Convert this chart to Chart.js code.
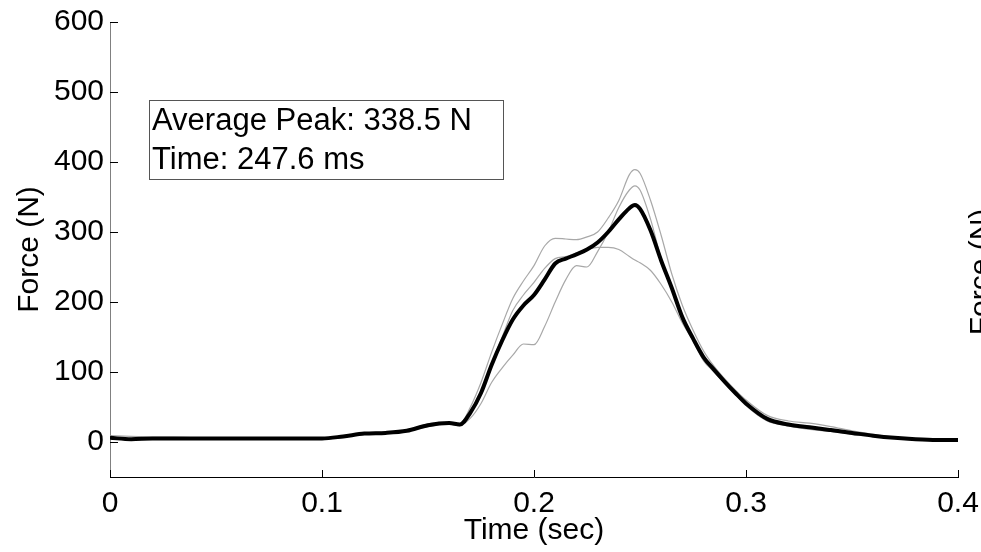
<!DOCTYPE html>
<html>
<head>
<meta charset="utf-8">
<script src="https://cdn.jsdelivr.net/npm/chart.js@4.4.1/dist/chart.umd.min.js"></script>
<style>
  html, body { margin: 0; padding: 0; background: #fff; }
  canvas { display: block; }
</style>
</head>
<body>
<canvas id="forceChart" width="981" height="552"></canvas>
<script>
// time (sec)
const times = [0, 0.01, 0.02, 0.03, 0.04, 0.05, 0.06, 0.07, 0.08, 0.09,
  0.10, 0.11, 0.12, 0.13, 0.14, 0.15, 0.16,
  0.165, 0.17, 0.175, 0.18, 0.185, 0.19, 0.195, 0.2,
  0.205, 0.21, 0.215, 0.22, 0.225, 0.23, 0.235, 0.24, 0.245, 0.2476,
  0.25, 0.255, 0.26, 0.265, 0.27, 0.275, 0.28, 0.285, 0.29, 0.295, 0.3,
  0.31, 0.32, 0.33, 0.34, 0.35, 0.36, 0.37, 0.38, 0.39, 0.4];

// average force (N)
const meanForce = [6, 4, 5, 5, 5, 5, 5, 5, 5, 5,
  5, 8, 12, 13, 16, 24, 27,
  25, 42, 70, 110, 145, 175, 195, 210,
  232, 255, 262, 268, 275, 285, 300, 318, 334, 338.5,
  333, 302, 259, 220, 178, 148, 121, 103, 86, 70, 55,
  33, 25, 21, 17, 13, 9, 6, 4, 3, 3];

// single trials (N)
const trial1 = [9, 8, 7, 7, 6, 6, 6, 5, 5, 5,
  5, 8, 13, 14, 17, 26, 28,
  26, 50, 85, 128, 168, 205, 230, 252,
  280, 291, 290, 289, 293, 300, 320, 345, 382, 389,
  384, 345, 295, 240, 195, 160, 130, 108, 90, 74, 60,
  38, 30, 27, 22, 16, 11, 7, 5, 4, 4];
const trial2 = [4, 3, 4, 4, 4, 4, 4, 4, 4, 4,
  4, 7, 11, 12, 15, 22, 26,
  23, 44, 72, 112, 150, 188, 210, 228,
  248, 262, 265, 270, 275, 278, 278, 275, 265, 260,
  256, 245, 225, 200, 170, 145, 118, 100, 84, 68, 52,
  30, 23, 18, 15, 12, 8, 5, 3, 3, 2];
const trial3 = [6, 4, 5, 5, 5, 5, 5, 5, 5, 5,
  5, 9, 12, 13, 16, 24, 27,
  24, 34, 55, 85, 106, 124, 140, 139,
  165, 200, 232, 252, 250, 272, 300, 335, 360, 366,
  360, 318, 262, 222, 178, 145, 116, 100, 84, 68, 53,
  31, 23, 19, 15, 11, 8, 6, 4, 3, 3];

const xTicks = [0, 0.1, 0.2, 0.3, 0.4];
const yTicks = [0, 100, 200, 300, 400, 500, 600];
const peakText = ['Average Peak: 338.5 N', 'Time: 247.6 ms'];

const FONT = '"Liberation Sans", Arial, sans-serif';
Chart.defaults.font.family = FONT;
Chart.defaults.color = '#000';

function toPoints(vals) {
  return times.map((t, i) => ({ x: t, y: vals[i] }));
}

function trialSet(vals) {
  return {
    data: toPoints(vals),
    borderColor: '#a8a8a8',
    borderWidth: 1.2,
    pointRadius: 0,
    cubicInterpolationMode: 'monotone',
    fill: false
  };
}

// inward tick marks, text box and the cut off label of the next panel
const matlabBits = {
  id: 'matlabBits',
  afterDraw(chart) {
    const ctx = chart.ctx;
    const area = chart.chartArea;
    const xs = chart.scales.x, ys = chart.scales.y;
    ctx.save();
    ctx.lineWidth = 1;
    ctx.strokeStyle = '#000';
    ctx.beginPath();
    xTicks.forEach(v => {
      const px = Math.round(xs.getPixelForValue(v)) + 0.5;
      ctx.moveTo(px, area.bottom);
      ctx.lineTo(px, area.bottom - 7);
    });
    yTicks.concat([ys.min]).forEach(v => {
      const py = Math.round(ys.getPixelForValue(v)) + 0.5;
      ctx.moveTo(area.left, py);
      ctx.lineTo(area.left + 8, py);
    });
    ctx.stroke();

    // annotation box
    ctx.strokeStyle = '#555';
    ctx.fillStyle = '#fff';
    ctx.fillRect(149, 100, 354, 79);
    ctx.strokeRect(149.5, 100.5, 354, 79);
    ctx.fillStyle = '#000';
    ctx.font = '31px ' + FONT;
    ctx.textBaseline = 'middle';
    ctx.textAlign = 'left';
    ctx.fillText(peakText[0], 152, 121);
    ctx.fillText(peakText[1], 152, 160);

    // neighbouring subplot label, clipped by the image edge
    ctx.translate(990, 272);
    ctx.rotate(-Math.PI / 2);
    ctx.textAlign = 'center';
    ctx.textBaseline = 'alphabetic';
    ctx.font = '30px ' + FONT;
    ctx.fillText('Force (N)', 0, 0);
    ctx.restore();
  }
};

new Chart(document.getElementById('forceChart'), {
  type: 'line',
  data: {
    datasets: [
      {
        data: toPoints(meanForce),
        borderColor: '#000',
        borderWidth: 4,
        pointRadius: 0,
        cubicInterpolationMode: 'monotone',
        fill: false
      },
      trialSet(trial1),
      trialSet(trial2),
      trialSet(trial3)
    ]
  },
  options: {
    responsive: false,
    animation: false,
    devicePixelRatio: 1,
    layout: { padding: { left: 0, right: 23, top: 22, bottom: 0 } },
    plugins: { legend: { display: false }, tooltip: { enabled: false } },
    scales: {
      x: {
        type: 'linear',
        min: 0,
        max: 0.4,
        afterBuildTicks: s => { s.ticks = xTicks.map(v => ({ value: v })); },
        afterFit: s => { s.height = 75; s.paddingLeft = 0; s.paddingRight = 0; },
        grid: { display: true, drawOnChartArea: false, drawTicks: false },
        border: { color: '#000', width: 1 },
        ticks: {
          padding: 9,
          maxRotation: 0,
          font: { size: 30 },
          callback: v => String(+v.toFixed(1))
        },
        title: { display: true, text: 'Time (sec)', font: { size: 30 }, padding: { top: 0, bottom: 3 } }
      },
      y: {
        min: -50,
        max: 600,
        afterBuildTicks: s => { s.ticks = yTicks.map(v => ({ value: v })); },
        afterFit: s => { s.width = 110; s.paddingTop = 0; s.paddingBottom = 0; },
        grid: { display: true, drawOnChartArea: false, drawTicks: false },
        border: { color: '#808080', width: 1 },
        ticks: { padding: 6, font: { size: 30 } },
        title: { display: true, text: 'Force (N)', font: { size: 30 }, padding: { top: 12, bottom: 0 } }
      }
    }
  },
  plugins: [matlabBits]
});
</script>
</body>
</html>
